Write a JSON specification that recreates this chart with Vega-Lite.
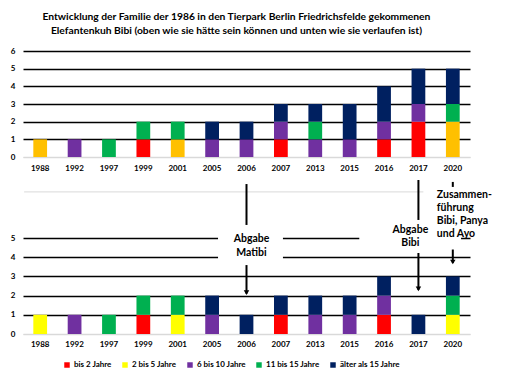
{
  "$schema": "https://vega.github.io/schema/vega-lite/v6.json",
  "padding": {"left": 5, "top": 11, "right": 5, "bottom": 5},
  "background": "white",
  "config": {
    "font": "Lato",
    "view": {"stroke": null},
    "axis": {"labelFont": "Lato", "labelFontWeight": "bold", "labelFontSize": 8, "labelColor": "#000000", "title": null},
    "axisY": {"minExtent": 18, "maxExtent": 18},
    "text": {"font": "Lato"}
  },
  "title": {
    "text": ["Entwicklung der Familie der 1986 in den Tierpark Berlin Friedrichsfelde gekommenen", "Elefantenkuh Bibi  (oben wie sie hätte sein können und unten wie sie verlaufen ist)"],
    "font": "Lato", "fontSize": 10.3, "fontWeight": "bold", "color": "#000000",
    "anchor": "middle", "offset": 11, "dx": -12, "lineHeight": 14
  },
  "datasets": {
    "oben": [
      {"jahr": "1988", "gruppe": "2 bis 5 Jahre", "stufe": 2, "anzahl": 1},
      {"jahr": "1992", "gruppe": "6 bis 10 Jahre", "stufe": 3, "anzahl": 1},
      {"jahr": "1997", "gruppe": "11 bis 15 Jahre", "stufe": 4, "anzahl": 1},
      {"jahr": "1999", "gruppe": "bis 2 Jahre", "stufe": 1, "anzahl": 1},
      {"jahr": "1999", "gruppe": "11 bis 15 Jahre", "stufe": 4, "anzahl": 1},
      {"jahr": "2001", "gruppe": "2 bis 5 Jahre", "stufe": 2, "anzahl": 1},
      {"jahr": "2001", "gruppe": "11 bis 15 Jahre", "stufe": 4, "anzahl": 1},
      {"jahr": "2005", "gruppe": "6 bis 10 Jahre", "stufe": 3, "anzahl": 1},
      {"jahr": "2005", "gruppe": "älter als 15 Jahre", "stufe": 5, "anzahl": 1},
      {"jahr": "2006", "gruppe": "6 bis 10 Jahre", "stufe": 3, "anzahl": 1},
      {"jahr": "2006", "gruppe": "älter als 15 Jahre", "stufe": 5, "anzahl": 1},
      {"jahr": "2007", "gruppe": "bis 2 Jahre", "stufe": 1, "anzahl": 1},
      {"jahr": "2007", "gruppe": "6 bis 10 Jahre", "stufe": 3, "anzahl": 1},
      {"jahr": "2007", "gruppe": "älter als 15 Jahre", "stufe": 5, "anzahl": 1},
      {"jahr": "2013", "gruppe": "6 bis 10 Jahre", "stufe": 3, "anzahl": 1},
      {"jahr": "2013", "gruppe": "11 bis 15 Jahre", "stufe": 4, "anzahl": 1},
      {"jahr": "2013", "gruppe": "älter als 15 Jahre", "stufe": 5, "anzahl": 1},
      {"jahr": "2015", "gruppe": "6 bis 10 Jahre", "stufe": 3, "anzahl": 1},
      {"jahr": "2015", "gruppe": "älter als 15 Jahre", "stufe": 5, "anzahl": 2},
      {"jahr": "2016", "gruppe": "bis 2 Jahre", "stufe": 1, "anzahl": 1},
      {"jahr": "2016", "gruppe": "6 bis 10 Jahre", "stufe": 3, "anzahl": 1},
      {"jahr": "2016", "gruppe": "älter als 15 Jahre", "stufe": 5, "anzahl": 2},
      {"jahr": "2017", "gruppe": "bis 2 Jahre", "stufe": 1, "anzahl": 2},
      {"jahr": "2017", "gruppe": "6 bis 10 Jahre", "stufe": 3, "anzahl": 1},
      {"jahr": "2017", "gruppe": "älter als 15 Jahre", "stufe": 5, "anzahl": 2},
      {"jahr": "2020", "gruppe": "2 bis 5 Jahre", "stufe": 2, "anzahl": 2},
      {"jahr": "2020", "gruppe": "11 bis 15 Jahre", "stufe": 4, "anzahl": 1},
      {"jahr": "2020", "gruppe": "älter als 15 Jahre", "stufe": 5, "anzahl": 2}
    ],
    "unten": [
      {"jahr": "1988", "gruppe": "2 bis 5 Jahre", "stufe": 2, "anzahl": 1},
      {"jahr": "1992", "gruppe": "6 bis 10 Jahre", "stufe": 3, "anzahl": 1},
      {"jahr": "1997", "gruppe": "11 bis 15 Jahre", "stufe": 4, "anzahl": 1},
      {"jahr": "1999", "gruppe": "bis 2 Jahre", "stufe": 1, "anzahl": 1},
      {"jahr": "1999", "gruppe": "11 bis 15 Jahre", "stufe": 4, "anzahl": 1},
      {"jahr": "2001", "gruppe": "2 bis 5 Jahre", "stufe": 2, "anzahl": 1},
      {"jahr": "2001", "gruppe": "11 bis 15 Jahre", "stufe": 4, "anzahl": 1},
      {"jahr": "2005", "gruppe": "6 bis 10 Jahre", "stufe": 3, "anzahl": 1},
      {"jahr": "2005", "gruppe": "älter als 15 Jahre", "stufe": 5, "anzahl": 1},
      {"jahr": "2006", "gruppe": "älter als 15 Jahre", "stufe": 5, "anzahl": 1},
      {"jahr": "2007", "gruppe": "bis 2 Jahre", "stufe": 1, "anzahl": 1},
      {"jahr": "2007", "gruppe": "älter als 15 Jahre", "stufe": 5, "anzahl": 1},
      {"jahr": "2013", "gruppe": "6 bis 10 Jahre", "stufe": 3, "anzahl": 1},
      {"jahr": "2013", "gruppe": "älter als 15 Jahre", "stufe": 5, "anzahl": 1},
      {"jahr": "2015", "gruppe": "6 bis 10 Jahre", "stufe": 3, "anzahl": 1},
      {"jahr": "2015", "gruppe": "älter als 15 Jahre", "stufe": 5, "anzahl": 1},
      {"jahr": "2016", "gruppe": "bis 2 Jahre", "stufe": 1, "anzahl": 1},
      {"jahr": "2016", "gruppe": "6 bis 10 Jahre", "stufe": 3, "anzahl": 1},
      {"jahr": "2016", "gruppe": "älter als 15 Jahre", "stufe": 5, "anzahl": 1},
      {"jahr": "2017", "gruppe": "älter als 15 Jahre", "stufe": 5, "anzahl": 1},
      {"jahr": "2020", "gruppe": "2 bis 5 Jahre", "stufe": 2, "anzahl": 1},
      {"jahr": "2020", "gruppe": "11 bis 15 Jahre", "stufe": 4, "anzahl": 1},
      {"jahr": "2020", "gruppe": "älter als 15 Jahre", "stufe": 5, "anzahl": 1}
    ]
  },
  "bounds": "flush",
  "spacing": 81,
  "resolve": {"scale": {"color": "independent"}},
  "vconcat": [
    {
      "width": 447,
      "height": 106,
      "data": {"name": "oben"},
      "mark": {"type": "bar"},
      "encoding": {
        "x": {"field": "jahr", "type": "ordinal", "scale": {"paddingInner": 0.6, "paddingOuter": 0.3},
              "axis": {"labelAngle": 0, "ticks": false, "domainColor": "#d9d9d9", "labelPadding": 7, "grid": false}},
        "y": {"field": "anzahl", "type": "quantitative", "stack": "zero", "scale": {"domain": [0, 6], "nice": false},
              "axis": {"values": [0, 1, 2, 3, 4, 5, 6], "grid": true, "gridColor": {"condition": {"test": "datum.value === 0", "value": "#d9d9d9"}, "value": "#000000"}, "gridWidth": 1.5, "domain": false, "ticks": false, "labelPadding": 8}},
        "color": {"field": "gruppe", "type": "nominal",
                  "scale": {"domain": ["bis 2 Jahre", "2 bis 5 Jahre", "6 bis 10 Jahre", "11 bis 15 Jahre", "älter als 15 Jahre"], "range": ["#FF0000", "#FFC000", "#7030A0", "#00B050", "#002060"]},
                  "legend": null},
        "order": {"field": "stufe", "type": "quantitative"}
      }
    },
    {
      "width": 447,
      "height": 96,
      "layer": [
        {
          "data": {"name": "unten"},
          "mark": {"type": "bar"},
          "encoding": {
            "x": {"field": "jahr", "type": "ordinal", "scale": {"paddingInner": 0.6, "paddingOuter": 0.3},
                  "axis": {"labelAngle": 0, "ticks": false, "domainColor": "#d9d9d9", "labelPadding": 6, "grid": false}},
            "y": {"field": "anzahl", "type": "quantitative", "stack": "zero", "scale": {"domain": [0, 5], "nice": false},
                  "axis": {"values": [0, 1, 2, 3, 4, 5], "tickCount": 6, "grid": true, "gridColor": {"condition": {"test": "datum.value === 0", "value": "#d9d9d9"}, "value": "#000000"}, "gridWidth": 1.5, "domain": false, "ticks": false, "labelPadding": 8}},
            "color": {"field": "gruppe", "type": "nominal",
                      "scale": {"domain": ["bis 2 Jahre", "2 bis 5 Jahre", "6 bis 10 Jahre", "11 bis 15 Jahre", "älter als 15 Jahre"], "range": ["#FF0000", "#FFFF00", "#7030A0", "#00B050", "#002060"]},
                      "legend": {"orient": "none", "legendX": 40, "legendY": 123, "direction": "horizontal", "title": null, "symbolType": "square", "symbolSize": 30, "symbolStrokeWidth": 0, "labelFontSize": 8, "labelFontWeight": "bold", "labelFont": "Lato", "labelColor": "#000000", "columnPadding": 9, "labelOffset": 3}},
            "order": {"field": "stufe", "type": "quantitative"}
          }
        },
        {
          "data": {"values": [{"von": "2005", "bis": "2007", "oben": 5.68, "unten": 3.59}]},
          "mark": {"type": "rect", "fill": "white", "color": "white"},
          "encoding": {
            "x": {"field": "von", "type": "ordinal", "bandPosition": 0.93},
            "x2": {"field": "bis", "bandPosition": 0.65},
            "y": {"field": "oben", "type": "quantitative", "axis": {"values": [0, 1, 2, 3, 4, 5], "tickCount": 6, "grid": true, "gridColor": {"condition": {"test": "datum.value === 0", "value": "#d9d9d9"}, "value": "#000000"}, "gridWidth": 1.5, "domain": false, "ticks": false, "labelPadding": 8}},
            "y2": {"field": "unten"}
          }
        },
        {
          "data": {"values": [{"von": "2015", "bis": "2020", "oben": 5.5, "unten": 4.5}]},
          "mark": {"type": "rect", "fill": "white", "color": "white"},
          "encoding": {
            "x": {"field": "von", "type": "ordinal", "bandPosition": 1.2},
            "x2": {"field": "bis", "bandPosition": 1.1},
            "y": {"field": "oben", "type": "quantitative", "axis": {"values": [0, 1, 2, 3, 4, 5], "tickCount": 6, "grid": true, "gridColor": {"condition": {"test": "datum.value === 0", "value": "#d9d9d9"}, "value": "#000000"}, "gridWidth": 1.5, "domain": false, "ticks": false, "labelPadding": 8}},
            "y2": {"field": "unten"}
          }
        },
        {
          "data": {"values": [{"von": "1988", "bis": "2017", "h": 7.4}]},
          "mark": {"type": "rule", "color": "#d9d9d9", "strokeWidth": 1},
          "encoding": {
            "x": {"field": "von", "type": "ordinal", "bandPosition": -0.67},
            "x2": {"field": "bis", "bandPosition": 0.86},
            "y": {"field": "h", "type": "quantitative", "axis": {"values": [0, 1, 2, 3, 4, 5], "tickCount": 6, "grid": true, "gridColor": {"condition": {"test": "datum.value === 0", "value": "#d9d9d9"}, "value": "#000000"}, "gridWidth": 1.5, "domain": false, "ticks": false, "labelPadding": 8}}
          }
        },
        {
          "data": {"values": [{"von": "2020", "bis": "2020", "h": 7.4}]},
          "mark": {"type": "rule", "color": "#d9d9d9", "strokeWidth": 1},
          "encoding": {
            "x": {"field": "von", "type": "ordinal", "bandPosition": 1.78},
            "x2": {"field": "bis", "bandPosition": 2.05},
            "y": {"field": "h", "type": "quantitative", "axis": {"values": [0, 1, 2, 3, 4, 5], "tickCount": 6, "grid": true, "gridColor": {"condition": {"test": "datum.value === 0", "value": "#d9d9d9"}, "value": "#000000"}, "gridWidth": 1.5, "domain": false, "ticks": false, "labelPadding": 8}}
          }
        },
        {
          "data": {"values": [
            {"jahr": "2006", "von": 7.81, "bis": 5.68},
            {"jahr": "2006", "von": 3.59, "bis": 2.1},
            {"jahr": "2017", "von": 8.02, "bis": 5.94},
            {"jahr": "2017", "von": 4.22, "bis": 2.3},
            {"jahr": "2020", "von": 7.92, "bis": 7.66},
            {"jahr": "2020", "von": 4.4, "bis": 3.7}
          ]},
          "mark": {"type": "rule", "color": "#000000", "strokeWidth": 2},
          "encoding": {
            "x": {"field": "jahr", "type": "ordinal"},
            "y": {"field": "von", "type": "quantitative", "axis": {"values": [0, 1, 2, 3, 4, 5], "tickCount": 6, "grid": true, "gridColor": {"condition": {"test": "datum.value === 0", "value": "#d9d9d9"}, "value": "#000000"}, "gridWidth": 1.5, "domain": false, "ticks": false, "labelPadding": 8}},
            "y2": {"field": "bis"}
          }
        },
        {
          "data": {"values": [
            {"jahr": "2006", "spitze": 2.15},
            {"jahr": "2017", "spitze": 2.35},
            {"jahr": "2020", "spitze": 3.75}
          ]},
          "mark": {"type": "point", "shape": "triangle-down", "filled": true, "color": "#000000", "size": 30, "opacity": 1},
          "encoding": {
            "x": {"field": "jahr", "type": "ordinal"},
            "y": {"field": "spitze", "type": "quantitative", "axis": {"values": [0, 1, 2, 3, 4, 5], "tickCount": 6, "grid": true, "gridColor": {"condition": {"test": "datum.value === 0", "value": "#d9d9d9"}, "value": "#000000"}, "gridWidth": 1.5, "domain": false, "ticks": false, "labelPadding": 8}}
          }
        },
        {
          "data": {"values": [{"jahr": "2006", "pos": 5.22, "txt": ["Abgabe", "Matibi"]}]},
          "mark": {"type": "text", "align": "center", "baseline": "top", "dx": 5, "fontSize": 10.5, "fontWeight": "bold", "lineHeight": 14, "color": "#000000"},
          "encoding": {
            "x": {"field": "jahr", "type": "ordinal"},
            "y": {"field": "pos", "type": "quantitative", "axis": {"values": [0, 1, 2, 3, 4, 5], "tickCount": 6, "grid": true, "gridColor": {"condition": {"test": "datum.value === 0", "value": "#d9d9d9"}, "value": "#000000"}, "gridWidth": 1.5, "domain": false, "ticks": false, "labelPadding": 8}},
            "text": {"field": "txt"}
          }
        },
        {
          "data": {"values": [{"jahr": "2017", "pos": 5.7, "txt": ["Abgabe", "Bibi"]}]},
          "mark": {"type": "text", "align": "center", "baseline": "top", "dx": -8, "fontSize": 10.5, "fontWeight": "bold", "lineHeight": 13.5, "color": "#000000"},
          "encoding": {
            "x": {"field": "jahr", "type": "ordinal"},
            "y": {"field": "pos", "type": "quantitative", "axis": {"values": [0, 1, 2, 3, 4, 5], "tickCount": 6, "grid": true, "gridColor": {"condition": {"test": "datum.value === 0", "value": "#d9d9d9"}, "value": "#000000"}, "gridWidth": 1.5, "domain": false, "ticks": false, "labelPadding": 8}},
            "text": {"field": "txt"}
          }
        },
        {
          "data": {"values": [{"jahr": "2020", "pos": 7.52, "txt": ["Zusammen-", "führung", "Bibi, Panya", "und Ayo"]}]},
          "mark": {"type": "text", "align": "left", "baseline": "top", "dx": -16, "fontSize": 10.5, "fontWeight": "bold", "lineHeight": 13.2, "color": "#000000"},
          "encoding": {
            "x": {"field": "jahr", "type": "ordinal"},
            "y": {"field": "pos", "type": "quantitative", "axis": {"values": [0, 1, 2, 3, 4, 5], "tickCount": 6, "grid": true, "gridColor": {"condition": {"test": "datum.value === 0", "value": "#d9d9d9"}, "value": "#000000"}, "gridWidth": 1.5, "domain": false, "ticks": false, "labelPadding": 8}},
            "text": {"field": "txt"}
          }
        }
      ]
    }
  ]
}
